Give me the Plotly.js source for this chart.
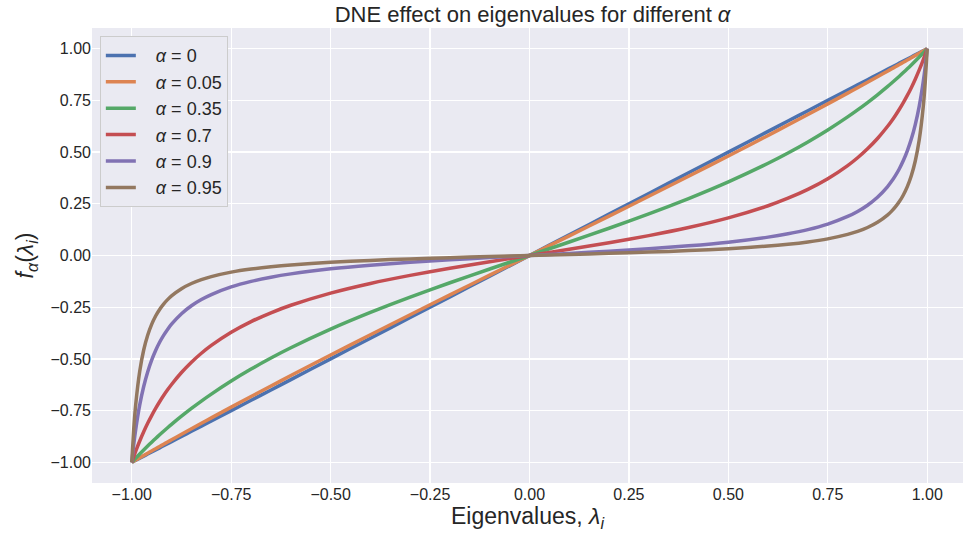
<!DOCTYPE html>
<html>
<head>
<meta charset="utf-8">
<script src="https://cdn.plot.ly/plotly-3.0.1.min.js"></script>
<style>html,body{margin:0;padding:0;background:#fff;}#chart{width:963px;height:541px;}</style>
</head>
<body>
<div id="chart"></div>
<script>
const lambdaValues = [-1,-0.995,-0.99,-0.98,-0.97,-0.96,-0.95,-0.94,-0.93,-0.92,-0.91,-0.9,-0.875,-0.85,-0.825,-0.8,-0.75,-0.7,-0.65,-0.6,-0.5,-0.4,-0.3,-0.2,-0.1,0,0.1,0.2,0.3,0.4,0.5,0.6,0.65,0.7,0.75,0.8,0.825,0.85,0.875,0.9,0.91,0.92,0.93,0.94,0.95,0.96,0.97,0.98,0.99,0.995,1];
const alphaLabels = ["0","0.05","0.35","0.7","0.9","0.95"];
const fAlpha0 = [-1,-0.995,-0.99,-0.98,-0.97,-0.96,-0.95,-0.94,-0.93,-0.92,-0.91,-0.9,-0.875,-0.85,-0.825,-0.8,-0.75,-0.7,-0.65,-0.6,-0.5,-0.4,-0.3,-0.2,-0.1,0,0.1,0.2,0.3,0.4,0.5,0.6,0.65,0.7,0.75,0.8,0.825,0.85,0.875,0.9,0.91,0.92,0.93,0.94,0.95,0.96,0.97,0.98,0.99,0.995,1];
const fAlpha005 = [-1,-0.9945,-0.9890,-0.9780,-0.9670,-0.9561,-0.9451,-0.9343,-0.9234,-0.9126,-0.9018,-0.8911,-0.8643,-0.8378,-0.8114,-0.7851,-0.7331,-0.6817,-0.6308,-0.5804,-0.4810,-0.3831,-0.2863,-0.1904,-0.0951,0,0.0951,0.1904,0.2863,0.3831,0.4810,0.5804,0.6308,0.6817,0.7331,0.7851,0.8114,0.8378,0.8643,0.8911,0.9018,0.9126,0.9234,0.9343,0.9451,0.9561,0.9670,0.9780,0.9890,0.9945,1];
const fAlpha035 = [-1,-0.9897,-0.9795,-0.9595,-0.9401,-0.9211,-0.9026,-0.8846,-0.8669,-0.8497,-0.8329,-0.8165,-0.7770,-0.7395,-0.7039,-0.6701,-0.6070,-0.5492,-0.4958,-0.4462,-0.3562,-0.2754,-0.2013,-0.1318,-0.0652,0,0.0652,0.1318,0.2013,0.2754,0.3562,0.4462,0.4958,0.5492,0.6070,0.6701,0.7039,0.7395,0.7770,0.8165,0.8329,0.8497,0.8669,0.8846,0.9026,0.9211,0.9401,0.9595,0.9795,0.9897,1];
const fAlpha07 = [-1,-0.9724,-0.9461,-0.8971,-0.8525,-0.8115,-0.7739,-0.7392,-0.7071,-0.6773,-0.6495,-0.6236,-0.5657,-0.5159,-0.4727,-0.4348,-0.3711,-0.3196,-0.2769,-0.2406,-0.1818,-0.1351,-0.0961,-0.0617,-0.0302,0,0.0302,0.0617,0.0961,0.1351,0.1818,0.2406,0.2769,0.3196,0.3711,0.4348,0.4727,0.5159,0.5657,0.6236,0.6495,0.6773,0.7071,0.7392,0.7739,0.8115,0.8525,0.8971,0.9461,0.9724,1];
const fAlpha09 = [-1,-0.9130,-0.8396,-0.7225,-0.6332,-0.5629,-0.5060,-0.4591,-0.4197,-0.3862,-0.3573,-0.3321,-0.2814,-0.2430,-0.2129,-0.1887,-0.1519,-0.1252,-0.1049,-0.0888,-0.0645,-0.0467,-0.0326,-0.0207,-0.0101,0,0.0101,0.0207,0.0326,0.0467,0.0645,0.0888,0.1049,0.1252,0.1519,0.1887,0.2129,0.2430,0.2814,0.3321,0.3573,0.3862,0.4197,0.4591,0.5060,0.5629,0.6332,0.7225,0.8396,0.9130,1];
const fAlpha095 = [-1,-0.8365,-0.7184,-0.5592,-0.4569,-0.3856,-0.3330,-0.2927,-0.2607,-0.2348,-0.2133,-0.1952,-0.1605,-0.1355,-0.1167,-0.1020,-0.0805,-0.0655,-0.0543,-0.0456,-0.0328,-0.0236,-0.0164,-0.0104,-0.0050,0,0.0050,0.0104,0.0164,0.0236,0.0328,0.0456,0.0543,0.0655,0.0805,0.1020,0.1167,0.1355,0.1605,0.1952,0.2133,0.2348,0.2607,0.2927,0.3330,0.3856,0.4569,0.5592,0.7184,0.8365,1];
const tickVals = [-1,-0.75,-0.5,-0.25,0,0.25,0.5,0.75,1];
const tickText = ["\u22121.00","\u22120.75","\u22120.50","\u22120.25","0.00","0.25","0.50","0.75","1.00"];

const series = [fAlpha0, fAlpha005, fAlpha035, fAlpha07, fAlpha09, fAlpha095];
const colors = ["#4C72B0","#DD8452","#55A868","#C44E52","#8172B3","#937860"];
const traces = series.map((ys, i) => ({
  x: lambdaValues, y: ys, type: "scatter", mode: "lines",
  name: "\u00A0\u00A0\u00A0<i>α</i> = " + alphaLabels[i],
  line: {color: colors[i], width: 3.5, shape: "spline", smoothing: 0.6}
}));

const font = "Liberation Sans, Arial, sans-serif";
const layout = {
  width: 963, height: 541,
  margin: {l: 92, r: 0, t: 28, b: 58},
  paper_bgcolor: "#ffffff",
  plot_bgcolor: "#EAEAF2",
  font: {family: font, color: "#262626", size: 16},
  title: {text: "DNE effect on eigenvalues for different <i>α</i>", font: {size: 22, family: font, color: "#262626"}, x: 0.553, xanchor: "center", y: 0.974, yanchor: "middle"},
  xaxis: {range: [-1.1, 1.09], tickvals: tickVals, ticktext: tickText, showgrid: true, gridcolor: "#ffffff", gridwidth: 1.2, zeroline: false, showline: false, ticks: "", ticklen: 0, tickfont: {size: 16}, title: {text: "Eigenvalues, <i>λ<sub>i</sub></i>", font: {size: 23}, standoff: 4}},
  yaxis: {range: [-1.1, 1.1], tickvals: tickVals, ticktext: tickText, showgrid: true, gridcolor: "#ffffff", gridwidth: 1.2, zeroline: false, showline: false, ticks: "", tickfont: {size: 16}, title: {text: "<i>f<sub>α</sub></i>(<i>λ<sub>i</sub></i>)", font: {size: 23}, standoff: 10}},
  showlegend: true,
  legend: {x: 0.009, y: 0.982, xanchor: "left", yanchor: "top", bgcolor: "#EAEAF2", bordercolor: "#CCCCCC", borderwidth: 1, font: {size: 18, family: font, color: "#262626"}, tracegroupgap: 0}
};
Plotly.newPlot("chart", traces, layout, {displayModeBar: false, staticPlot: true});
</script>
</body>
</html>
